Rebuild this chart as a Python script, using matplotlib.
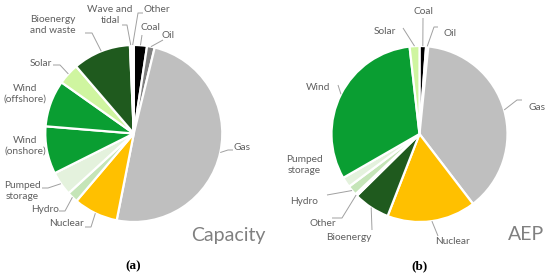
import numpy as np
import matplotlib
matplotlib.use("Agg")
import matplotlib.pyplot as plt

W, H = 550, 278

# ---- data ----
cap_labels = ['Coal', 'Oil', 'Gas', 'Nuclear', 'Hydro', 'Pumped\nstorage',
              'Wind\n(onshore)', 'Wind\n(offshore)', 'Solar',
              'Bioenergy\nand waste', 'Wave and\ntidal', 'Other']
cap_values = [2.4, 1.4, 49.3, 8.1, 2.0, 4.4, 8.7, 8.5, 3.9, 10.6, 0.3, 0.4]

aep_labels = ['Coal', 'Oil', 'Gas', 'Nuclear', 'Bioenergy', 'Other', 'Hydro',
              'Pumped\nstorage', 'Wind', 'Solar']
aep_values = [1.2, 0.4, 38.0, 16.3, 6.7, 0.4, 1.8, 1.9, 31.5, 1.8]

colors = {
    'Coal': '#000000', 'Oil': '#808080', 'Gas': '#bfbfbf', 'Nuclear': '#ffc000',
    'Hydro': '#c5e5b8', 'Pumped\nstorage': '#e4f2dd', 'Wind\n(onshore)': '#0a9e32',
    'Wind\n(offshore)': '#0a9e32', 'Wind': '#0a9e32', 'Solar': '#cff5a0',
    'Bioenergy\nand waste': '#1f5a1e', 'Bioenergy': '#1f5a1e',
    'Wave and\ntidal': '#f4f4f4', 'Other': '#fbeee0',
}

plt.rcParams['font.family'] = ['Lato', 'DejaVu Sans']
TXT = '#5f5f5f'
LINE = '#a0a0a0'

fig = plt.figure(figsize=(W / 100, H / 100), dpi=100)
ax = fig.add_axes([0, 0, 1, 1])

def Y(y):
    return H - y

# layout: pie centres/radius in pixel coords (top-left origin)
pies = [
    dict(labels=cap_labels, values=cap_values, c=(133.8, 133.5), r=88.5,
         lay={
             'Coal': ((150, 28), 'center', [(142, 35)]),
             'Oil': ((168, 36), 'center', [(163, 40)]),
             'Gas': ((242, 148), 'center', [(233, 150), (228, 150)]),
             'Nuclear': ((66, 223), 'center', [(85, 227), (91, 227)]),
             'Hydro': ((45, 209), 'center', [(59, 211), (65, 211)]),
             'Pumped\nstorage': ((22, 191), 'center', [(42, 188), (48, 188)]),
             'Wind\n(onshore)': ((25, 146), 'center', None),
             'Wind\n(offshore)': ((25, 94), 'center', None),
             'Solar': ((41, 63), 'center', [(53, 65), (60, 65)]),
             'Bioenergy\nand waste': ((53, 25), 'center', [(85, 33), (92, 33)]),
             'Wave and\ntidal': ((110, 15), 'center', [(122, 25), (127, 25)]),
             'Other': ((157, 10), 'center', [(143, 13), (138, 13)]),
         }),
    dict(labels=aep_labels, values=aep_values, c=(419.5, 134.0), r=88.0,
         lay={
             'Coal': ((423, 12), 'center', [(423, 18)]),
             'Oil': ((450, 33), 'center', [(438, 27), (434, 27)]),
             'Gas': ((537, 107), 'center', [(522, 100), (517, 100)]),
             'Nuclear': ((452, 242), 'center', [(438, 236)]),
             'Bioenergy': ((349, 237), 'center', [(372, 230)]),
             'Other': ((323, 223), 'center', [(332, 218), (342, 218)]),
             'Hydro': ((304, 202), 'center', [(327, 195)]),
             'Pumped\nstorage': ((304, 165), 'center', None),
             'Wind': ((318, 87), 'center', [(338, 85)]),
             'Solar': ((385, 32), 'center', [(403, 28)]),
         }),
]

for p in pies:
    cx, cy = p['c']
    wedges, _ = ax.pie(p['values'], colors=[colors[l] for l in p['labels']],
                       startangle=90, counterclock=False,
                       center=(cx, Y(cy)), radius=p['r'],
                       wedgeprops=dict(edgecolor='white', linewidth=1.6))
    for w, lab in zip(wedges, p['labels']):
        (tx, ty), ha, elbows = p['lay'][lab]
        ax.text(tx, Y(ty), lab, ha=ha, va='center', fontsize=7.3, color=TXT,
                linespacing=1.2)
        if elbows:
            mid = np.deg2rad((w.theta1 + w.theta2) / 2)
            rx = cx + p['r'] * np.cos(mid)
            ry = Y(cy) + p['r'] * np.sin(mid)
            xs = [e[0] for e in elbows] + [rx]
            ys = [Y(e[1]) for e in elbows] + [ry]
            ax.plot(xs, ys, color=LINE, lw=0.7, solid_capstyle='butt')

ax.text(228, Y(236), 'Capacity', ha='center', va='center', fontsize=14,
        color='#808080')
ax.text(526, Y(234), 'AEP', ha='center', va='center', fontsize=14,
        color='#808080')
for x, s in [(133, '(a)'), (420, '(b)')]:
    ax.text(x, Y(266), s, ha='center', va='center', fontsize=9.5,
            fontweight='bold', family=['Liberation Serif', 'DejaVu Serif'])

ax.set_xlim(0, W)
ax.set_ylim(0, H)
ax.set_aspect('equal')
ax.axis('off')
fig.savefig('out.png', dpi=100)
